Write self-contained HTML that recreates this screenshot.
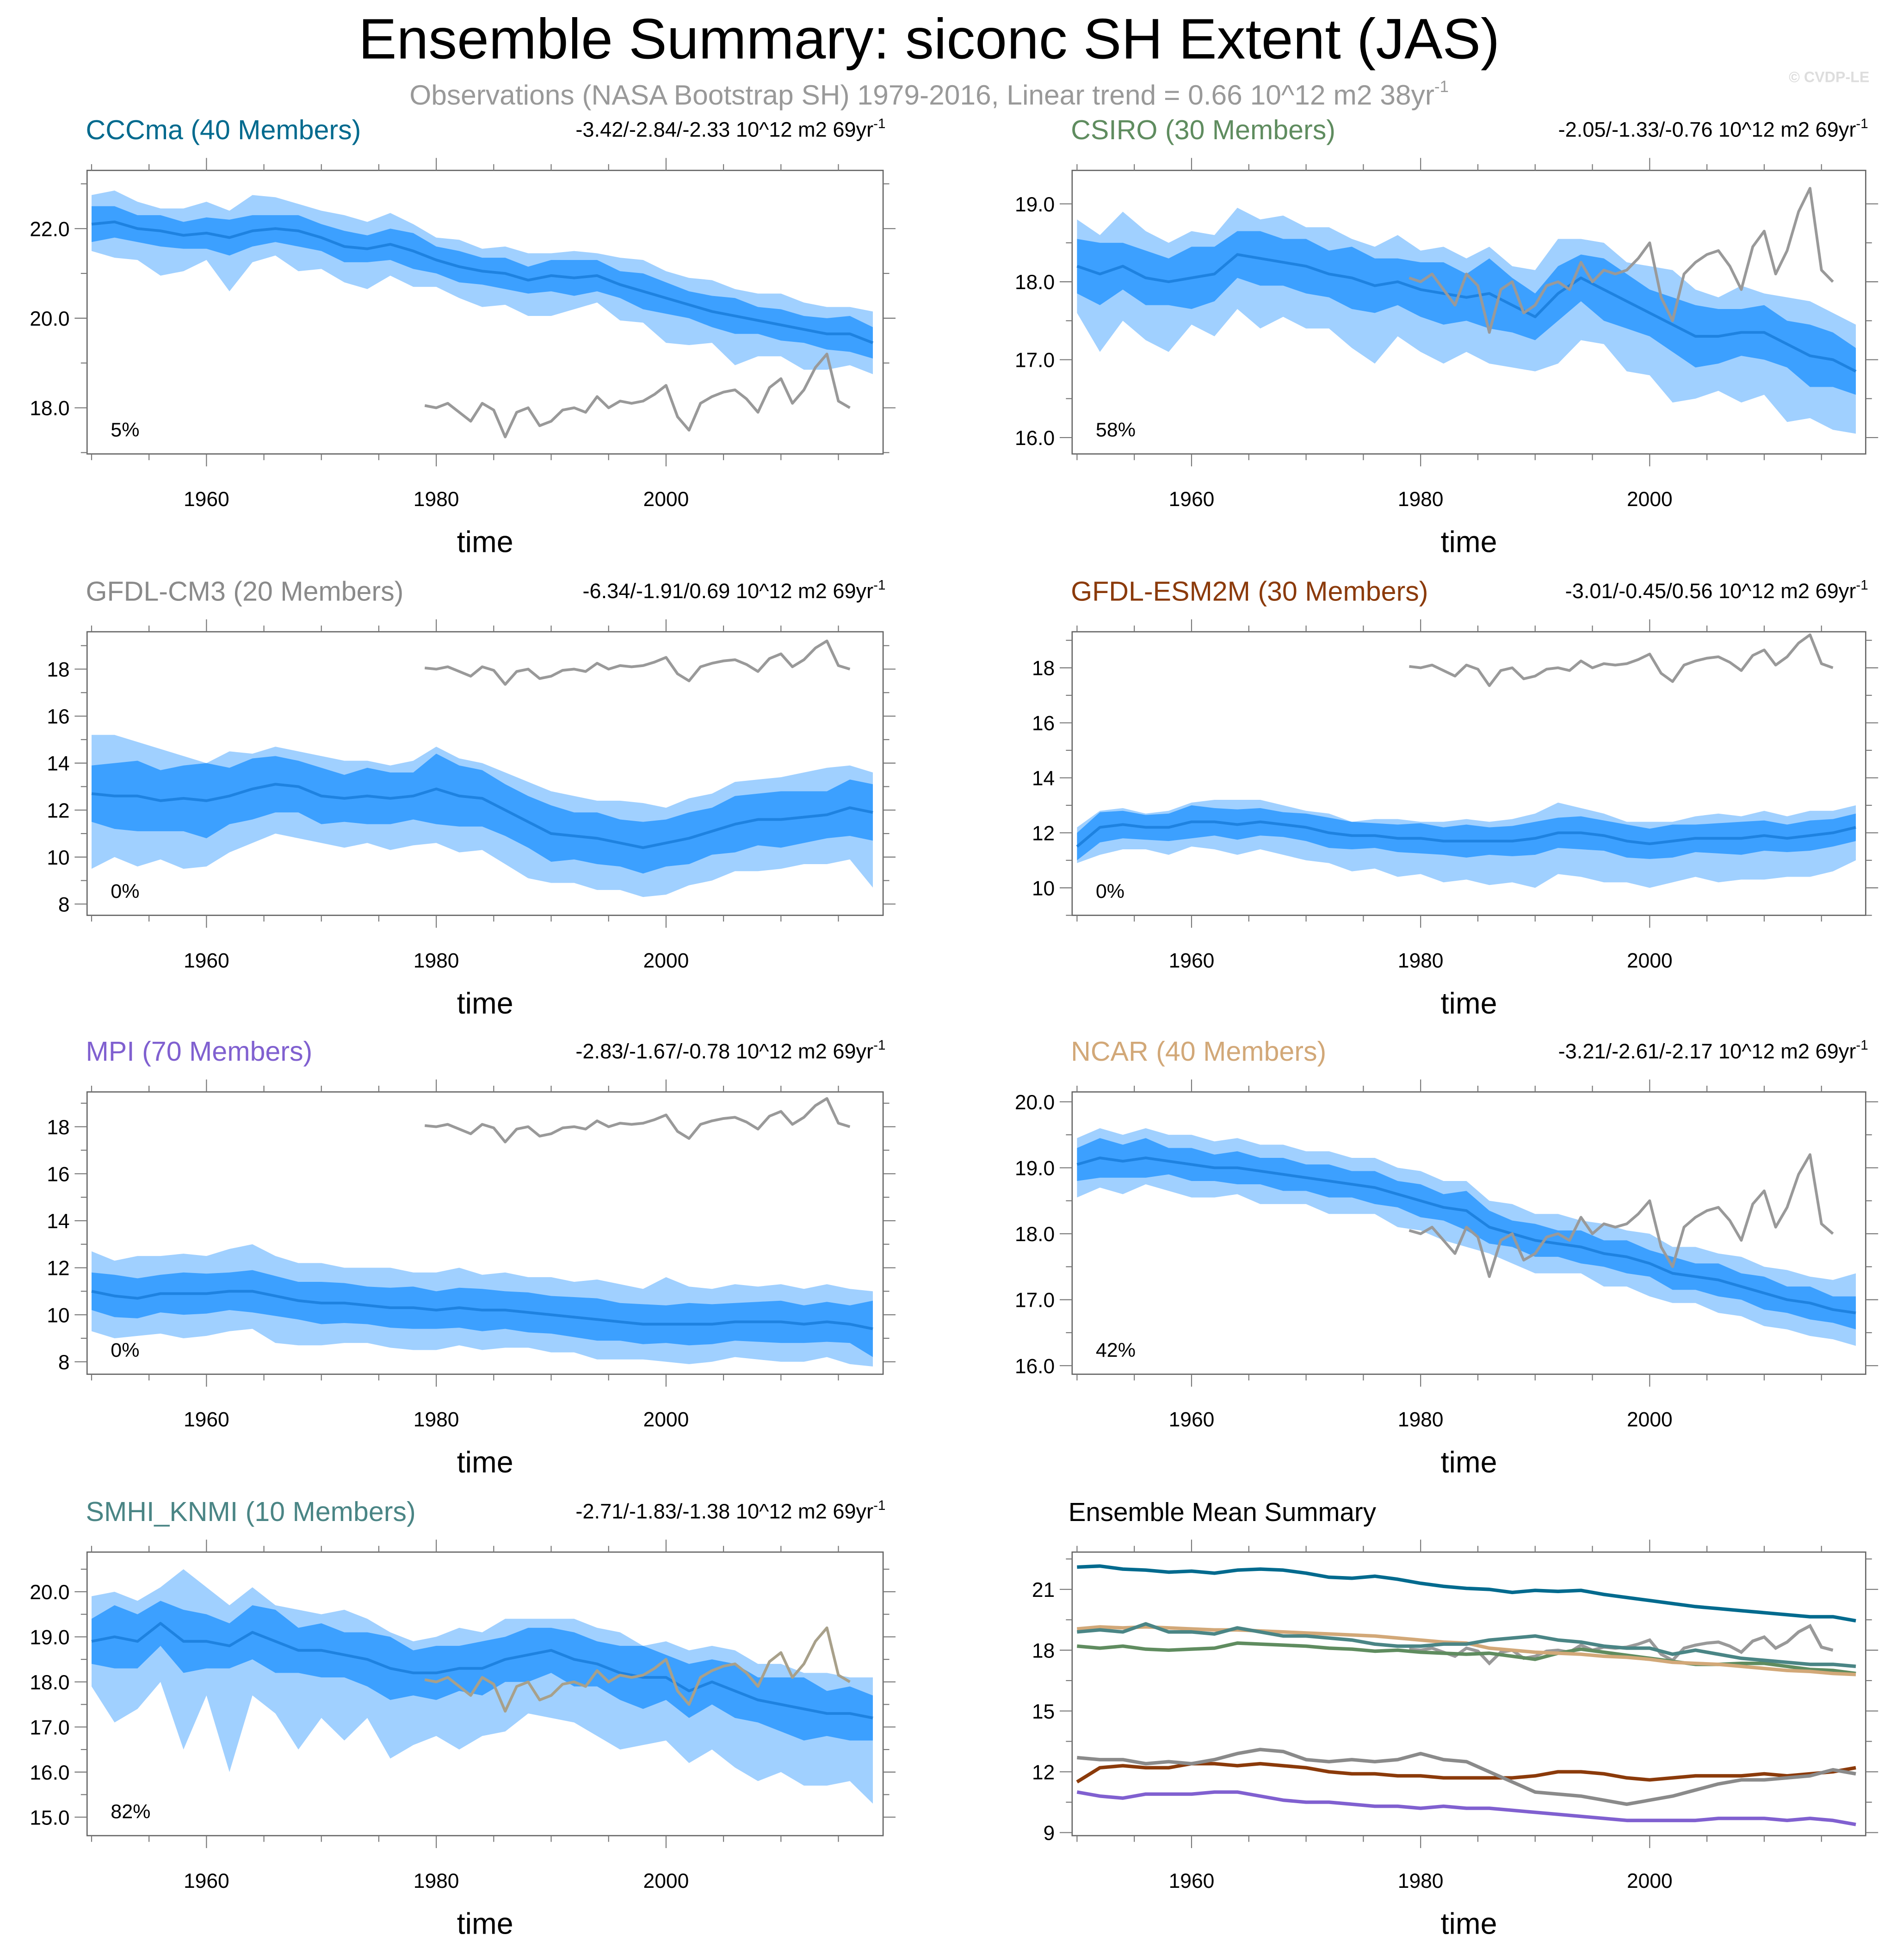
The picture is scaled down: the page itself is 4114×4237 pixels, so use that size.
<!DOCTYPE html>
<html><head><meta charset="utf-8"><style>
html,body{margin:0;padding:0;background:#fff}
svg{display:block}
text{font-family:"Liberation Sans",sans-serif}
</style></head><body>
<svg id="root" xmlns="http://www.w3.org/2000/svg" width="4114" height="4237" viewBox="0 0 1530 1576" preserveAspectRatio="none">
<rect x="0" y="0" width="1530" height="1576" fill="#fff"/>
<text x="747" y="47" font-size="46" text-anchor="middle" fill="#000">Ensemble Summary: siconc SH Extent (JAS)</text>
<text x="747" y="84" font-size="22.5" text-anchor="middle" fill="#999">Observations (NASA Bootstrap SH) 1979-2016, Linear trend = 0.66 10^12 m2 38yr<tspan dy="-10" font-size="13">-1</tspan></text>
<text x="1503" y="66" font-size="12" text-anchor="end" fill="#ddd" font-weight="bold">© CVDP-LE</text>
</svg>
<script>
// Observations 1979-2016
const obsYears = [1979,1980,1981,1982,1983,1984,1985,1986,1987,1988,1989,1990,1991,1992,1993,1994,1995,1996,1997,1998,1999,2000,2001,2002,2003,2004,2005,2006,2007,2008,2009,2010,2011,2012,2013,2014,2015,2016];
const obsValues = [18.05,18.0,18.1,17.9,17.7,18.1,17.95,17.35,17.9,18.0,17.6,17.7,17.95,18.0,17.9,18.25,18.0,18.15,18.1,18.15,18.3,18.5,17.8,17.5,18.1,18.25,18.35,18.4,18.2,17.9,18.45,18.65,18.1,18.4,18.9,19.2,18.15,18.0];
// model years (every 2 years)
const modelYears = [1950,1952,1954,1956,1958,1960,1962,1964,1966,1968,1970,1972,1974,1976,1978,1980,1982,1984,1986,1988,1990,1992,1994,1996,1998,2000,2002,2004,2006,2008,2010,2012,2014,2016,2018];
const xTickLabels = ["1960","1980","2000"];

const cccmaMean = [22.1,22.15,22.0,21.95,21.85,21.9,21.8,21.95,22.0,21.95,21.8,21.6,21.55,21.65,21.5,21.3,21.15,21.05,21.0,20.85,20.95,20.9,20.95,20.75,20.6,20.45,20.3,20.15,20.05,19.95,19.85,19.75,19.65,19.65,19.45];
const cccmaInner = [0.4,0.35,0.3,0.35,0.3,0.35,0.4,0.35,0.3,0.35,0.3,0.35,0.3,0.35,0.4,0.3,0.35,0.3,0.35,0.3,0.35,0.4,0.35,0.3,0.4,0.35,0.3,0.35,0.4,0.3,0.35,0.3,0.35,0.4,0.35];
const cccmaOutLo = [0.6,0.8,0.7,1.0,0.8,0.6,1.2,0.7,0.6,0.9,0.7,0.8,0.9,0.7,0.8,0.6,0.7,0.8,0.7,0.8,0.9,0.7,0.6,0.8,0.7,1.0,0.9,0.7,1.1,0.8,0.7,0.9,0.8,0.7,0.7];
const cccmaOutHi = [0.65,0.7,0.6,0.5,0.6,0.7,0.6,0.8,0.7,0.6,0.6,0.7,0.6,0.7,0.6,0.5,0.6,0.5,0.6,0.6,0.5,0.6,0.5,0.6,0.7,0.6,0.6,0.7,0.6,0.6,0.7,0.6,0.6,0.6,0.7];

const csiroMean = [18.2,18.1,18.2,18.05,18.0,18.05,18.1,18.35,18.3,18.25,18.2,18.1,18.05,17.95,18.0,17.9,17.85,17.8,17.85,17.7,17.55,17.85,18.05,17.9,17.75,17.6,17.45,17.3,17.3,17.35,17.35,17.2,17.05,17.0,16.85];
const csiroInner = [0.35,0.4,0.3,0.35,0.3,0.4,0.35,0.3,0.35,0.3,0.35,0.3,0.4,0.35,0.3,0.35,0.4,0.3,0.45,0.35,0.3,0.35,0.3,0.4,0.35,0.3,0.35,0.4,0.35,0.3,0.35,0.3,0.4,0.35,0.3];
const csiroOutLo = [0.6,1.0,0.7,0.8,0.9,0.6,0.8,0.7,0.9,0.7,0.8,0.7,0.9,1.0,0.7,0.8,0.9,0.7,0.9,0.8,0.7,0.9,0.8,0.7,0.9,0.8,1.0,0.8,0.7,0.9,0.8,1.0,0.8,0.9,0.8];
const csiroOutHi = [0.6,0.5,0.7,0.6,0.5,0.6,0.5,0.6,0.5,0.6,0.5,0.6,0.5,0.5,0.6,0.5,0.6,0.5,0.6,0.5,0.6,0.7,0.5,0.6,0.5,0.6,0.7,0.6,0.5,0.6,0.5,0.6,0.7,0.6,0.6];

const cm3Mean = [12.7,12.6,12.6,12.4,12.5,12.4,12.6,12.9,13.1,13.0,12.6,12.5,12.6,12.5,12.6,12.9,12.6,12.5,12.0,11.5,11.0,10.9,10.8,10.6,10.4,10.6,10.8,11.1,11.4,11.6,11.6,11.7,11.8,12.1,11.9];
const cm3Inner = [1.2,1.4,1.5,1.3,1.4,1.6,1.2,1.3,1.2,1.1,1.2,1.0,1.2,1.1,1.0,1.5,1.3,1.2,1.1,1.1,1.2,1.0,1.1,1.0,1.1,1.0,1.1,1.0,1.2,1.1,1.2,1.1,1.0,1.2,1.2];
const cm3OutLo = [3.2,2.6,3.0,2.5,3.0,2.8,2.4,2.3,2.1,2.2,2.0,2.1,2.0,2.2,2.1,2.3,2.4,2.2,2.3,2.4,2.1,2.0,2.2,2.0,2.1,2.2,2.0,2.1,2.0,2.2,2.1,2.0,2.1,2.2,3.2];
const cm3OutHi = [2.5,2.6,2.3,2.2,1.8,1.6,1.9,1.5,1.6,1.5,1.7,1.6,1.5,1.4,1.5,1.8,1.6,1.5,1.6,1.7,1.8,1.7,1.6,1.8,1.9,1.5,1.7,1.6,1.8,1.7,1.8,1.9,2.0,1.8,1.7];

const esm2mMean = [11.5,12.2,12.3,12.2,12.2,12.4,12.4,12.3,12.4,12.3,12.2,12.0,11.9,11.9,11.8,11.8,11.7,11.7,11.7,11.7,11.8,12.0,12.0,11.9,11.7,11.6,11.7,11.8,11.8,11.8,11.9,11.8,11.9,12.0,12.2];
const esm2mInner = [0.5,0.55,0.5,0.45,0.5,0.6,0.5,0.55,0.5,0.45,0.5,0.55,0.5,0.45,0.5,0.55,0.5,0.6,0.5,0.55,0.6,0.55,0.6,0.55,0.6,0.55,0.6,0.5,0.55,0.6,0.55,0.5,0.55,0.5,0.5];
const esm2mOutLo = [0.6,1.0,0.9,0.8,1.0,0.9,1.0,1.1,1.0,1.1,1.2,1.1,1.3,1.2,1.4,1.3,1.5,1.4,1.6,1.5,1.8,1.5,1.6,1.7,1.5,1.6,1.5,1.4,1.6,1.5,1.6,1.4,1.5,1.4,1.2];
const esm2mOutHi = [0.7,0.6,0.6,0.5,0.6,0.7,0.8,0.9,0.8,0.7,0.6,0.7,0.5,0.6,0.7,0.6,0.7,0.8,0.7,0.8,0.9,1.1,0.9,0.8,0.7,0.8,0.7,0.8,0.9,0.8,0.9,0.8,0.9,0.8,0.8];

const mpiMean = [11.0,10.8,10.7,10.9,10.9,10.9,11.0,11.0,10.8,10.6,10.5,10.5,10.4,10.3,10.3,10.2,10.3,10.2,10.2,10.1,10.0,9.9,9.8,9.7,9.6,9.6,9.6,9.6,9.7,9.7,9.7,9.6,9.7,9.6,9.4];
const mpiInner = [0.8,0.9,0.85,0.8,0.9,0.85,0.8,0.9,0.85,0.8,0.9,0.85,0.8,0.85,0.9,0.8,0.85,0.9,0.8,0.85,0.8,0.85,0.9,0.8,0.85,0.8,0.9,0.85,0.8,0.85,0.9,0.8,0.85,0.8,1.2];
const mpiOutLo = [1.7,1.8,1.6,1.7,1.9,1.8,1.7,1.6,2.0,1.9,1.8,1.7,1.6,1.7,1.8,1.7,1.6,1.7,1.6,1.5,1.6,1.5,1.7,1.6,1.5,1.6,1.7,1.6,1.5,1.6,1.7,1.6,1.5,1.7,1.6];
const mpiOutHi = [1.7,1.5,1.8,1.6,1.7,1.6,1.8,2.0,1.7,1.6,1.7,1.5,1.6,1.7,1.5,1.6,1.7,1.5,1.6,1.5,1.6,1.5,1.7,1.6,1.5,2.0,1.6,1.5,1.6,1.5,1.6,1.5,1.6,1.5,1.6];

const ncarMean = [19.05,19.15,19.1,19.15,19.1,19.05,19.0,19.0,18.95,18.9,18.85,18.8,18.75,18.7,18.6,18.5,18.4,18.35,18.1,18.0,17.9,17.85,17.8,17.7,17.65,17.55,17.4,17.35,17.3,17.2,17.1,17.0,16.95,16.85,16.8];
const ncarInner = [0.25,0.3,0.25,0.3,0.2,0.25,0.2,0.25,0.2,0.25,0.2,0.25,0.2,0.25,0.2,0.25,0.2,0.3,0.25,0.2,0.25,0.2,0.25,0.2,0.25,0.2,0.25,0.2,0.25,0.2,0.25,0.2,0.25,0.2,0.25];
const ncarOutLo = [0.5,0.45,0.5,0.4,0.45,0.5,0.45,0.4,0.5,0.45,0.4,0.5,0.45,0.4,0.5,0.45,0.5,0.55,0.4,0.45,0.5,0.45,0.4,0.5,0.45,0.5,0.45,0.4,0.5,0.45,0.5,0.45,0.5,0.45,0.5];
const ncarOutHi = [0.4,0.45,0.4,0.45,0.4,0.45,0.4,0.45,0.4,0.45,0.4,0.45,0.4,0.45,0.4,0.45,0.4,0.45,0.4,0.45,0.4,0.45,0.4,0.45,0.4,0.45,0.4,0.45,0.4,0.45,0.4,0.45,0.4,0.45,0.6];

const smhiMean = [18.9,19.0,18.9,19.3,18.9,18.9,18.8,19.1,18.9,18.7,18.7,18.6,18.5,18.3,18.2,18.2,18.3,18.3,18.5,18.6,18.7,18.5,18.4,18.2,18.1,18.1,17.8,18.0,17.8,17.6,17.5,17.4,17.3,17.3,17.2];
const smhiInner = [0.5,0.7,0.6,0.5,0.7,0.6,0.5,0.6,0.7,0.5,0.6,0.5,0.6,0.7,0.5,0.6,0.5,0.6,0.5,0.6,0.5,0.6,0.5,0.6,0.7,0.5,0.6,0.5,0.6,0.5,0.6,0.7,0.5,0.6,0.5];
const smhiOutLo = [1.0,1.9,1.5,1.3,2.4,1.2,2.8,1.4,1.6,2.2,1.5,1.9,1.3,2.0,1.6,1.4,1.8,1.5,1.6,1.3,1.5,1.4,1.6,1.7,1.5,1.4,1.6,1.5,1.7,1.8,1.5,1.7,1.6,1.5,1.9];
const smhiOutHi = [1.0,1.0,0.9,0.8,1.6,1.2,0.9,1.0,0.8,0.9,0.8,1.0,0.9,0.8,0.7,0.8,0.9,0.8,0.9,0.8,0.7,0.9,0.8,0.9,0.7,0.8,0.9,0.8,0.9,0.8,0.9,0.8,0.9,0.8,0.9];

const NS="http://www.w3.org/2000/svg";
const root=document.getElementById('root');
function mk(tag,attrs,parent){const e=document.createElementNS(NS,tag);for(const k in attrs)e.setAttribute(k,attrs[k]);(parent||root).appendChild(e);return e;}

const panels=[
 {id:'cccma',title:'CCCma (40 Members)',col:'#006a8e',stats:'-3.42/-2.84/-2.33',x0:70,x1:710,y0:137,y1:365,ymin:16.97,ymax:23.3,ticks:[18,20,22],dec:1,pct:'5%',mean:cccmaMean,inner:cccmaInner,lo:cccmaOutLo,hi:cccmaOutHi},
 {id:'csiro',title:'CSIRO (30 Members)',col:'#5f8c5f',stats:'-2.05/-1.33/-0.76',x0:862,x1:1500,y0:137,y1:365,ymin:15.79,ymax:19.43,ticks:[16,17,18,19],dec:1,pct:'58%',mean:csiroMean,inner:csiroInner,lo:csiroOutLo,hi:csiroOutHi},
 {id:'gfdl-cm3',title:'GFDL-CM3 (20 Members)',col:'#8a8a8a',stats:'-6.34/-1.91/0.69',x0:70,x1:710,y0:508,y1:736,ymin:7.52,ymax:19.59,ticks:[8,10,12,14,16,18],dec:0,pct:'0%',mean:cm3Mean,inner:cm3Inner,lo:cm3OutLo,hi:cm3OutHi},
 {id:'gfdl-esm2m',title:'GFDL-ESM2M (30 Members)',col:'#8b3a0a',stats:'-3.01/-0.45/0.56',x0:862,x1:1500,y0:508,y1:736,ymin:9.0,ymax:19.31,ticks:[10,12,14,16,18],dec:0,pct:'0%',mean:esm2mMean,inner:esm2mInner,lo:esm2mOutLo,hi:esm2mOutHi},
 {id:'mpi',title:'MPI (70 Members)',col:'#8060d0',stats:'-2.83/-1.67/-0.78',x0:70,x1:710,y0:878,y1:1105,ymin:7.47,ymax:19.48,ticks:[8,10,12,14,16,18],dec:0,pct:'0%',mean:mpiMean,inner:mpiInner,lo:mpiOutLo,hi:mpiOutHi},
 {id:'ncar',title:'NCAR (40 Members)',col:'#d2a878',stats:'-3.21/-2.61/-2.17',x0:862,x1:1500,y0:878,y1:1105,ymin:15.87,ymax:20.15,ticks:[16,17,18,19,20],dec:1,pct:'42%',mean:ncarMean,inner:ncarInner,lo:ncarOutLo,hi:ncarOutHi},
 {id:'smhi-knmi',title:'SMHI_KNMI (10 Members)',col:'#4a8585',stats:'-2.71/-1.83/-1.38',x0:70,x1:710,y0:1248,y1:1476,ymin:14.59,ymax:20.88,ticks:[15,16,17,18,19,20],dec:1,pct:'82%',mean:smhiMean,inner:smhiInner,lo:smhiOutLo,hi:smhiOutHi}
];
const summary={id:'summary',x0:862,x1:1500,y0:1248,y1:1476,ymin:8.85,ymax:22.84,ticks:[9,12,15,18,21],dec:0};

function xs(p){const x60=p.x0+96, px=(p.x1-p.x0-10)/68.2; return y=>x60+(y-1960)*px;}
function ys(p){return v=>p.y1-(v-p.ymin)/(p.ymax-p.ymin)*(p.y1-p.y0);}

function axes(p,g){
 const X=xs(p),Y=ys(p);
 const box=mk('rect',{x:p.x0,y:p.y0,width:p.x1-p.x0,height:p.y1-p.y0,fill:'none',stroke:'#666','stroke-width':1},g);
 
 
 for(let yr=1950;yr<=2015;yr+=5){
  const major=(yr%20===0);
  const L=major?10:5;
  [[p.y0,-1],[p.y1,1]].forEach(([yy,d])=>{
   const t=mk('line',{x1:X(yr),x2:X(yr),y1:yy,y2:yy+d*L,stroke:'#777','stroke-width':0.8},g);
   
   
  });
 }
 xTickLabels.forEach(s=>{
  const t=mk('text',{x:X(+s),y:p.y1+42,'font-size':16.5,'text-anchor':'middle',fill:'#000'},g);t.textContent=s;
  
  
 });
 const xt=mk('text',{x:(p.x0+p.x1)/2,y:p.y1+79,'font-size':24,'text-anchor':'middle',fill:'#000'},g);xt.textContent='time';
 
 
 const step=p.ticks[1]-p.ticks[0];
 for(let v=p.ticks[0]-step;v<=p.ticks[p.ticks.length-1]+step;v+=step/2){
  const yy=Y(v); if(yy<p.y0||yy>p.y1) continue;
  const major=p.ticks.some(t=>Math.abs(t-v)<1e-6);
  const L=major?10:5;
  [[p.x0,-1],[p.x1,1]].forEach(([xx,d])=>{
   const t=mk('line',{x1:xx,x2:xx+d*L,y1:yy,y2:yy,stroke:'#777','stroke-width':0.8},g);
   
   
  });
 }
 p.ticks.forEach(v=>{
  const t=mk('text',{x:p.x0-14,y:Y(v)+6,'font-size':16.5,'text-anchor':'end',fill:'#000'},g);t.textContent=v.toFixed(p.dec);
  
  
 });
}
function lineD(years,vals,X,Y){return years.map((y,i)=>(i?'L':'M')+X(y).toFixed(2)+','+Y(vals[i]).toFixed(2)).join(' ');}
function bandD(years,lo,hi,X,Y){
 let d=years.map((y,i)=>(i?'L':'M')+X(y).toFixed(2)+','+Y(hi[i]).toFixed(2)).join(' ');
 for(let i=years.length-1;i>=0;i--) d+=' L'+X(years[i]).toFixed(2)+','+Y(lo[i]).toFixed(2);
 return d+' Z';
}
const defs=mk('defs',{});
panels.concat([summary]).forEach(p=>{
 const cp=mk('clipPath',{id:'clip-'+p.id},defs);
 mk('rect',{x:p.x0,y:p.y0,width:p.x1-p.x0,height:p.y1-p.y0},cp);
});

panels.forEach(p=>{
 const g=mk('g',{});
 
 
 const X=xs(p),Y=ys(p);
 const outerHi=p.mean.map((m,i)=>m+p.hi[i]), outerLo=p.mean.map((m,i)=>m-p.lo[i]);
 const innerHi=p.mean.map((m,i)=>m+p.inner[i]), innerLo=p.mean.map((m,i)=>m-p.inner[i]);
 const cg=mk('g',{'clip-path':'url(#clip-'+p.id+')'},g);
 const ob=mk('path',{d:bandD(modelYears,outerLo,outerHi,X,Y),fill:'#a0d0ff'},cg);
 
 
 const ib=mk('path',{d:bandD(modelYears,innerLo,innerHi,X,Y),fill:'#3ca0ff'},cg);
 
 
 const ml=mk('path',{d:lineD(modelYears,p.mean,X,Y),fill:'none',stroke:'#1e82e0','stroke-width':2.2,'stroke-linejoin':'round'},cg);
 
 
 const obs=mk('path',{d:lineD(obsYears,obsValues,X,Y),fill:'none',stroke:p.id==='smhi-knmi'?'#a8a08a':'#999','stroke-width':2.2,'stroke-linejoin':'round'},cg);
 
 
 axes(p,g);
 const tt=mk('text',{x:p.x0-1,y:p.y0-25,'font-size':22,fill:p.col},g);tt.textContent=p.title;
 
 
 const st=mk('text',{x:p.x1+2,y:p.y0-27,'font-size':16.8,'text-anchor':'end',fill:'#000'},g);
 st.innerHTML=p.stats+' 10^12 m2 69yr<tspan dy="-7" font-size="11">-1</tspan>';
 
 
 const pc=mk('text',{x:p.x0+19,y:p.y1-14,'font-size':16,fill:'#000'},g);pc.textContent=p.pct;
 
 
});

(function(){
 const p=summary;const g=mk('g',{});
 
 
 const X=xs(p),Y=ys(p);
 const cg=mk('g',{'clip-path':'url(#clip-summary)'},g);
 const order=[panels[0],panels[3],panels[2],panels[4],panels[1],panels[5],panels[6]];
 const obs=mk('path',{d:lineD(obsYears,obsValues,X,Y),fill:'none',stroke:'#999','stroke-width':2.5},cg);
 
 
 order.forEach(m=>{
  const l=mk('path',{d:lineD(modelYears,m.mean,X,Y),fill:'none',stroke:m.col,'stroke-width':2.8,'stroke-linejoin':'round'},cg);
  
  
 });
 axes(p,g);
 const tt=mk('text',{x:p.x0-3,y:p.y0-25,'font-size':21,fill:'#000'},g);tt.textContent='Ensemble Mean Summary';
 
 
})();
</script>
</body></html>
